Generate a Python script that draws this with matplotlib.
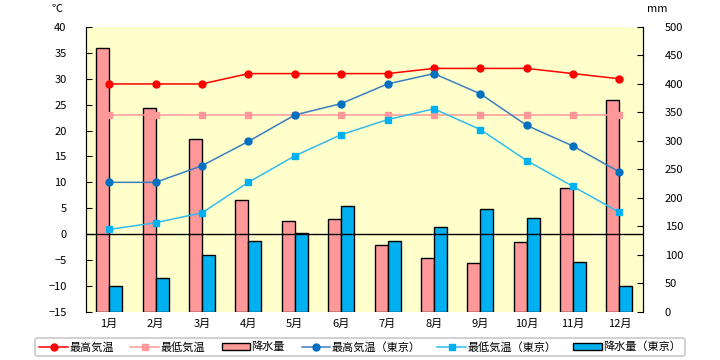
import numpy as np
import matplotlib
matplotlib.use("Agg")
import matplotlib.pyplot as plt

plt.rcParams['font.family'] = ['Noto Sans CJK JP', 'DejaVu Sans']

months = ['1月', '2月', '3月', '4月', '5月', '6月', '7月', '8月', '9月', '10月', '11月', '12月']
t_high = [29, 29, 29, 31, 31, 31, 31, 32, 32, 32, 31, 30]
t_low = [23, 23, 23, 23, 23, 23, 23, 23, 23, 23, 23, 23]
rain = [464, 357, 304, 197, 160, 162, 118, 95, 85, 122, 218, 371]
tokyo_high = [10.0, 10.0, 13.2, 17.9, 23.0, 25.2, 29.0, 31.0, 27.1, 21.0, 17.0, 12.0]
tokyo_low = [0.9, 2.2, 4.1, 10.0, 15.1, 19.2, 22.1, 24.2, 20.2, 14.2, 9.2, 4.2]
tokyo_rain = [45, 60, 99, 125, 138, 185, 125, 148, 180, 164, 88, 46]

x = np.arange(len(months))

fig = plt.figure(figsize=(7.2, 3.6), dpi=100)
ax = fig.add_axes([0.1194, 0.134, 0.7732, 0.791])
ax2 = ax.twinx()

# bars on the right (mm) axis
w = 0.28
ax2.bar(x - w / 2, rain, w, color='#FF9999', edgecolor='black', linewidth=1, label='降水量')
ax2.bar(x + w / 2, tokyo_rain, w, color='#00B0F0', edgecolor='black', linewidth=1, label='降水量（東京）')
ax2.set_ylim(0, 500)
ax2.set_yticks(range(0, 501, 50))

# lines on the left (°C) axis, drawn above the bars
ax.set_zorder(ax2.get_zorder() + 1)
ax.patch.set_visible(False)
ax2.patch.set_visible(True)
ax2.patch.set_facecolor('#FFFFCC')

ax.axhline(0, color='black', linewidth=1, zorder=1)
ax.plot(x, t_high, color='#FF0000', marker='o', markersize=5, linewidth=1.1, label='最高気温')
ax.plot(x, t_low, color='#FF9999', marker='s', markersize=5, linewidth=1.1, label='最低気温')
ax.plot(x, tokyo_high, color='#3A7FC0', marker='o', markersize=5, markerfacecolor='#0070C0',
        markeredgecolor='#0070C0', linewidth=1.1, label='最高気温（東京）')
ax.plot(x, tokyo_low, color='#33BBEE', marker='s', markersize=5, markerfacecolor='#00B0F0',
        markeredgecolor='#00B0F0', linewidth=1.1, label='最低気温（東京）')

ax.set_ylim(-15, 40)
ax.set_yticks(range(-15, 41, 5))
ax.set_xlim(-0.5, 11.5)
ax.set_xticks(x)
ax.set_xticklabels(months)

for a in (ax, ax2):
    a.spines['top'].set_visible(False)
    a.spines['bottom'].set_visible(False)
    a.spines['left'].set_color('black')
    a.spines['right'].set_color('black')
    a.tick_params(axis='y', direction='in', length=4, labelsize=8, colors='black', pad=14)
    a.tick_params(axis='x', length=0, labelsize=8, pad=5)
ax2.tick_params(axis='y', pad=16)

fig.text(0.079, 0.975, '℃', fontsize=8, ha='center', va='center')
fig.text(0.913, 0.975, 'mm', fontsize=8, ha='center', va='center')

h1, l1 = ax.get_legend_handles_labels()
h2, l2 = ax2.get_legend_handles_labels()
order = [h1[0], h1[1], h2[0], h1[2], h1[3], h2[1]]
labels = [l1[0], l1[1], l2[0], l1[2], l1[3], l2[1]]
leg = fig.legend(order, labels, loc='center', bbox_to_anchor=(0.5, 0.036), ncol=6,
                 fontsize=8, frameon=True, fancybox=True, handlelength=2.6,
                 handletextpad=0.1, columnspacing=1.5, borderpad=0.35)
leg.get_frame().set_edgecolor('#BBBBBB')
leg.get_frame().set_linewidth(1.2)

fig.savefig('out.png', dpi=100)
